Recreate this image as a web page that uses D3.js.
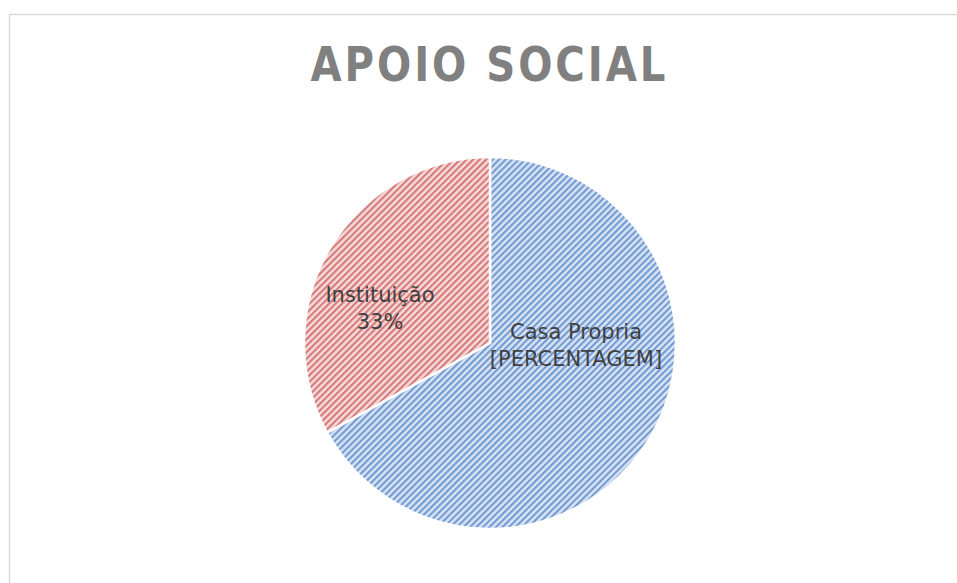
<!DOCTYPE html>
<html>
<head>
<meta charset="utf-8">
<script src="https://cdn.jsdelivr.net/npm/d3@7"></script>
<style>
  body { margin: 0; background: #fff; }
  text { font-family: "DejaVu Sans", sans-serif; }
</style>
</head>
<body>
<div id="chart"></div>
<script>
// Chart data
const categories = ["Casa Propria", "Instituição"];
const values = [67, 33];
const valueLabels = ["[PERCENTAGEM]", "33%"];
const title = "APOIO SOCIAL";

const width = 957, height = 583;
const cx = 490, cy = 343, radius = 186;

const svg = d3.select("#chart").append("svg")
    .attr("width", width)
    .attr("height", height);

// Chart area border (runs off the right and bottom edges)
svg.append("rect")
    .attr("x", 9.5)
    .attr("y", 14.5)
    .attr("width", width + 20)
    .attr("height", height + 20)
    .attr("fill", "#fff")
    .attr("stroke", "#d9d9d9")
    .attr("stroke-width", 1.5);

// Striped fills
const fills = [
  { id: "hatch-blue", bg: "#d6e2f3", fg: "#7199d2" },
  { id: "hatch-red", bg: "#f5d8d8", fg: "#d77878" }
];
const defs = svg.append("defs");
fills.forEach(f => {
  const p = defs.append("pattern")
      .attr("id", f.id)
      .attr("patternUnits", "userSpaceOnUse")
      .attr("width", 4.6)
      .attr("height", 4.6)
      .attr("patternTransform", "rotate(45)");
  p.append("rect").attr("width", 4.6).attr("height", 4.6).attr("fill", f.bg);
  p.append("rect").attr("width", 2).attr("height", 4.6).attr("fill", f.fg);
});

const color = d3.scaleOrdinal()
    .domain(categories)
    .range(fills.map(f => `url(#${f.id})`));

const pie = d3.pie().sort(null).value(d => d.value);
const data = categories.map((c, i) => ({ name: c, value: values[i], label: valueLabels[i] }));
const arcs = pie(data);

const arc = d3.arc().innerRadius(0).outerRadius(radius);

const g = svg.append("g").attr("transform", `translate(${cx},${cy})`);

g.selectAll("path.slice")
  .data(arcs)
  .enter().append("path")
    .attr("class", "slice")
    .attr("d", arc)
    .attr("fill", d => color(d.data.name))
    .attr("stroke", "#fff")
    .attr("stroke-width", 2.5)
    .attr("stroke-linejoin", "miter");

// Labels inside slices
const labelPos = [[86, -4], [-110, -41]];

const lbl = g.selectAll("text.lbl")
  .data(arcs)
  .enter().append("text")
    .attr("class", "lbl")
    .attr("text-anchor", "middle")
    .attr("fill", "#404040")
    .attr("font-size", 21)
    .attr("transform", (d, i) => `translate(${labelPos[i][0]},${labelPos[i][1]})`);

lbl.append("tspan").attr("x", 0).attr("dy", 0).text(d => d.data.name);
lbl.append("tspan").attr("x", 0).attr("dy", 27).text(d => d.data.label);

// Title (narrow, widely spaced caps)
const sx = 0.84;
svg.append("g")
    .attr("transform", `translate(488,81) scale(${sx},1)`)
  .append("text")
    .attr("text-anchor", "middle")
    .attr("fill", "#808080")
    .attr("font-size", 48)
    .attr("font-weight", 600)
    .attr("font-family", "'Open Sans', sans-serif")
    .attr("textLength", 355 / sx)
    .attr("lengthAdjust", "spacing")
    .text(title);
</script>
</body>
</html>
